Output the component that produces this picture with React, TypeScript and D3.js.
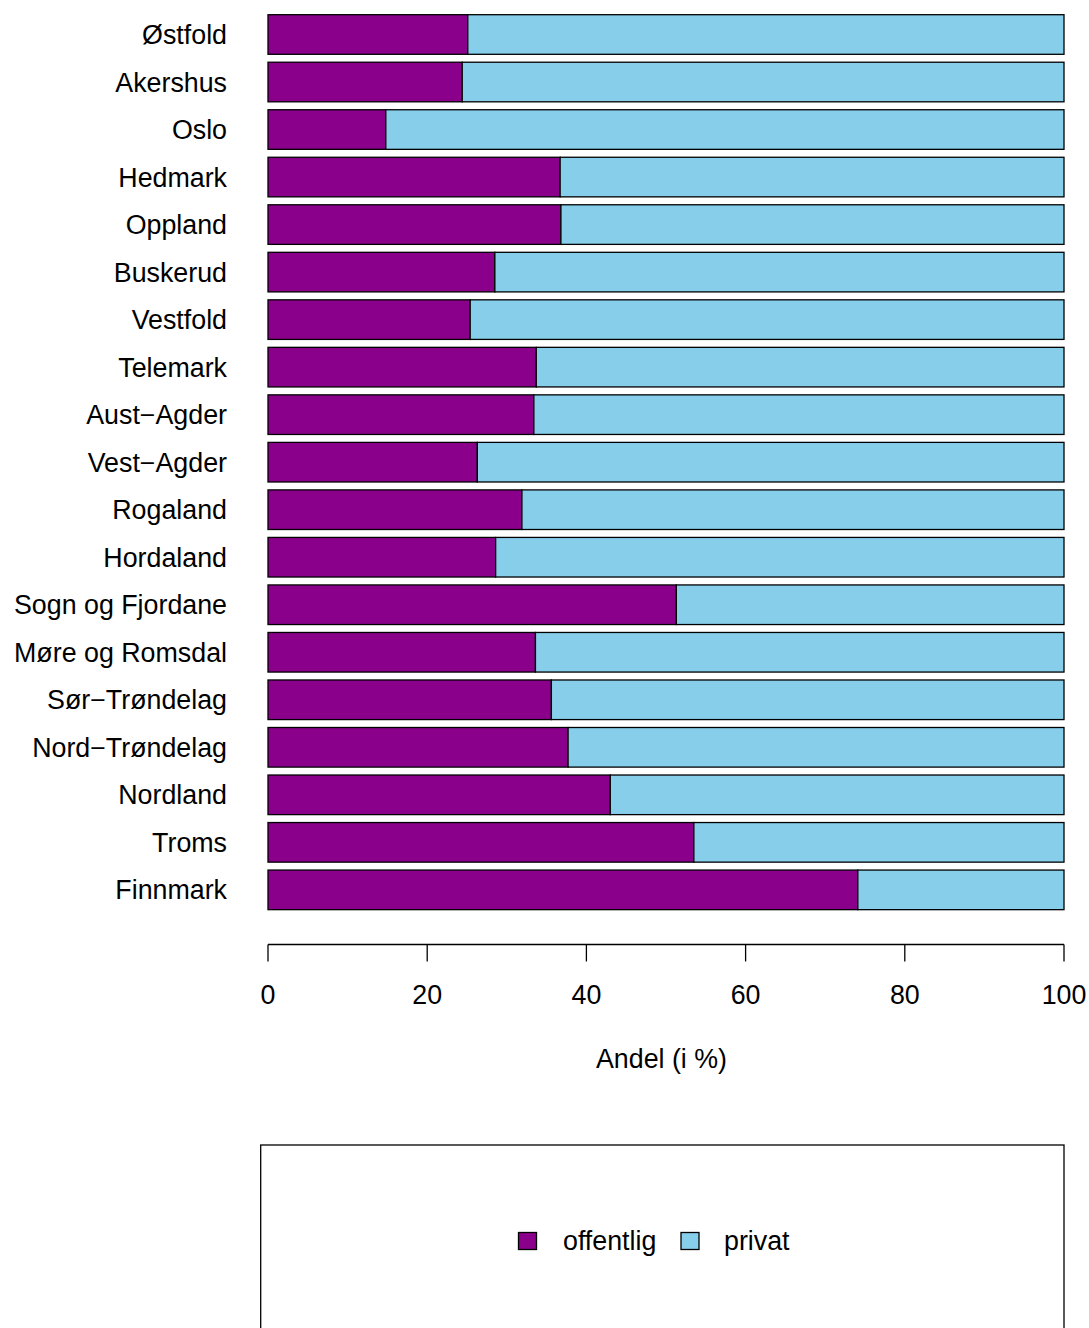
import React from "react";
import * as d3 from "d3";

const categories = [
  "Østfold", "Akershus", "Oslo", "Hedmark", "Oppland", "Buskerud", "Vestfold",
  "Telemark", "Aust−Agder", "Vest−Agder", "Rogaland", "Hordaland",
  "Sogn og Fjordane", "Møre og Romsdal", "Sør−Trøndelag", "Nord−Trøndelag",
  "Nordland", "Troms", "Finnmark",
];
const offentlig = [
  25.1, 24.4, 14.8, 36.7, 36.8, 28.5, 25.4, 33.7, 33.4, 26.3, 31.9, 28.6,
  51.3, 33.6, 35.6, 37.7, 43.0, 53.5, 74.1,
];
const privat = offentlig.map((v) => 100 - v);
const xTicks = [0, 20, 40, 60, 80, 100];
const seriesNames = ["offentlig", "privat"];
const seriesColors = ["#8B008B", "#87CEEB"];

const W = 1089;
const H = 1328;
const FONT = "'Liberation Sans', Arial, Helvetica, sans-serif";
const FS = 26.8;

export default function App() {
  const x = d3.scaleLinear().domain([0, 100]).range([268, 1064]);
  const step = 47.52;
  const pad = 0.2 / 1.2;
  const y0 = 14.7;
  const y = d3
    .scaleBand<string>()
    .domain(categories)
    .range([y0, y0 + step * (categories.length - pad)])
    .paddingInner(pad)
    .paddingOuter(0);
  const bw = y.bandwidth();
  const axisY = 944.5;

  const legendItems = [
    { name: seriesNames[0], color: seriesColors[0], sx: 518.5, tx: 563 },
    { name: seriesNames[1], color: seriesColors[1], sx: 681, tx: 724 },
  ];

  return (
    <svg
      width={W}
      height={H}
      style={{ position: "absolute", left: 0, top: 0, background: "#fff" }}
      fontFamily={FONT}
    >
      <rect x={0} y={0} width={W} height={H} fill="#fff" />
      {categories.map((c, i) => {
        const yy = y(c)!;
        return (
          <g key={c}>
            <rect
              x={x(0)}
              y={yy}
              width={x(offentlig[i]) - x(0)}
              height={bw}
              fill={seriesColors[0]}
              stroke="#000"
              strokeWidth={1.3}
            />
            <rect
              x={x(offentlig[i])}
              y={yy}
              width={x(offentlig[i] + privat[i]) - x(offentlig[i])}
              height={bw}
              fill={seriesColors[1]}
              stroke="#000"
              strokeWidth={1.3}
            />
            <text
              x={227}
              y={yy + bw / 2 + 9.6}
              textAnchor="end"
              fontSize={FS}
              fill="#000"
            >
              {c}
            </text>
          </g>
        );
      })}
      {/* x axis */}
      <line x1={x(0)} x2={x(100)} y1={axisY} y2={axisY} stroke="#000" strokeWidth={1.3} />
      {xTicks.map((t) => (
        <g key={t}>
          <line x1={x(t)} x2={x(t)} y1={axisY} y2={axisY + 17} stroke="#000" strokeWidth={1.3} />
          <text x={x(t)} y={1004} textAnchor="middle" fontSize={FS} fill="#000">
            {t}
          </text>
        </g>
      ))}
      <text x={661.5} y={1067.5} textAnchor="middle" fontSize={FS} fill="#000">
        Andel (i %)
      </text>
      {/* legend */}
      <rect x={260.7} y={1145} width={1064 - 260.7} height={260} fill="none" stroke="#000" strokeWidth={1.3} />
      {legendItems.map((it) => (
        <g key={it.name}>
          <rect x={it.sx} y={1232.5} width={18} height={17} fill={it.color} stroke="#000" strokeWidth={1.3} />
          <text x={it.tx} y={1250} fontSize={FS} fill="#000">
            {it.name}
          </text>
        </g>
      ))}
    </svg>
  );
}
